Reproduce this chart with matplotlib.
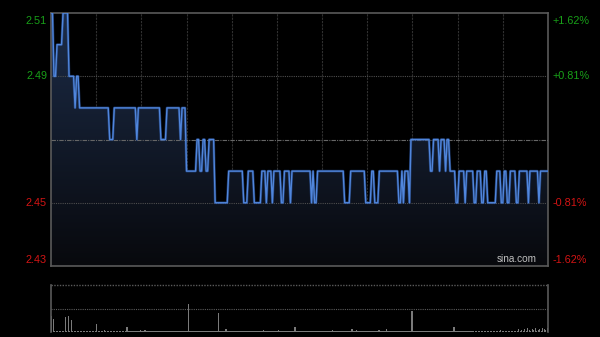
import numpy as np
import matplotlib
matplotlib.use("Agg")
import matplotlib.pyplot as plt

# intraday price, run-length: start minute of each run and its price
run_start = [0, 2, 4, 8, 12, 16, 17, 19, 39, 42, 57, 58, 73, 77, 86, 87, 90,
             97, 99, 101, 103, 105, 109, 118, 128, 131, 135, 140, 143, 144,
             147, 148, 153, 155, 159, 160, 173, 174, 175, 177, 195, 199, 209,
             213, 215, 218, 231, 233, 234, 235, 238, 239, 252, 254, 258, 259,
             262, 263, 265, 269, 271, 275, 276, 281, 283, 286, 288, 290, 296,
             299, 301, 303, 305, 309, 311, 317, 318, 324, 325]
run_price = [2.51, 2.49, 2.50, 2.51, 2.49, 2.48, 2.49, 2.48, 2.47, 2.48, 2.47,
             2.48, 2.47, 2.48, 2.47, 2.48, 2.46, 2.47, 2.46, 2.47, 2.46, 2.47,
             2.45, 2.46, 2.45, 2.46, 2.45, 2.46, 2.45, 2.46, 2.45, 2.46, 2.45,
             2.46, 2.45, 2.46, 2.45, 2.46, 2.45, 2.46, 2.45, 2.46, 2.45, 2.46,
             2.45, 2.46, 2.45, 2.46, 2.45, 2.46, 2.45, 2.47, 2.46, 2.47, 2.46,
             2.47, 2.46, 2.47, 2.46, 2.45, 2.46, 2.45, 2.46, 2.45, 2.46, 2.45,
             2.46, 2.45, 2.46, 2.45, 2.46, 2.45, 2.46, 2.45, 2.46, 2.45, 2.46,
             2.45, 2.46]
n_minutes = 331
prev_close = 2.47
price_ticks = [2.51, 2.49, 2.47, 2.45, 2.43]
pct_labels = ["+1.62%", "+0.81%", "", "-0.81%", "-1.62%"]

volume = [
    320, 260, 20, 15, 20, 25, 15, 20, 20, 300,
    20, 320, 25, 240, 20, 15, 20, 15, 20, 25,
    15, 20, 20, 15, 25, 20, 15, 20, 20, 15,
    160, 20, 15, 20, 25, 40, 20, 15, 20, 20,
    15, 20, 25, 20, 15, 20, 20, 15, 25, 20,
    100, 20, 15, 20, 25, 20, 15, 20, 20, 40,
    20, 15, 40, 20, 15, 20, 25, 20, 15, 20,
    20, 15, 25, 20, 20, 15, 20, 20, 15, 25,
    20, 15, 20, 20, 25, 15, 20, 20, 15, 20,
    20, 560, 20, 15, 20, 25, 20, 15, 20, 20,
    15, 20, 25, 20, 15, 20, 20, 15, 25, 20,
    20, 380, 20, 15, 20, 25, 60, 20, 15, 20,
    20, 15, 25, 20, 15, 20, 20, 15, 20, 25,
    20, 15, 20, 20, 25, 15, 20, 20, 15, 20,
    20, 40, 20, 15, 25, 20, 15, 20, 20, 15,
    20, 40, 20, 15, 20, 25, 20, 15, 20, 20,
    15, 20, 100, 20, 15, 20, 25, 20, 15, 20,
    20, 15, 25, 20, 15, 20, 20, 15, 20, 25,
    20, 15, 20, 20, 25, 15, 20, 40, 15, 20,
    20, 15, 25, 20, 15, 20, 20, 15, 25, 20,
    60, 20, 15, 50, 20, 25, 20, 15, 20, 20,
    15, 20, 25, 20, 15, 20, 20, 15, 50, 20,
    20, 15, 20, 60, 25, 20, 15, 20, 20, 15,
    20, 25, 20, 15, 20, 20, 15, 25, 20, 20,
    420, 20, 15, 20, 25, 20, 15, 20, 20, 15,
    20, 25, 20, 15, 20, 20, 15, 20, 25, 20,
    15, 20, 20, 15, 25, 20, 20, 15, 100, 20,
    20, 15, 20, 25, 20, 15, 20, 20, 15, 20,
    25, 20, 15, 20, 20, 15, 20, 25, 20, 15,
    20, 20, 15, 25, 20, 20, 15, 20, 20, 50,
    20, 15, 20, 25, 20, 15, 20, 20, 15, 20,
    25, 60, 20, 40, 15, 60, 20, 80, 40, 20,
    60, 40, 80, 20, 40, 60, 20, 80, 60, 40,
    90,
]

# expand the runs into one price per minute
prices = np.empty(n_minutes)
bounds = run_start + [n_minutes]
for i, p in enumerate(run_price):
    prices[bounds[i]:bounds[i + 1]] = p
minutes = np.arange(n_minutes)

GREEN = "#18a018"
RED = "#d41414"
FONT = "Liberation Sans"

fig = plt.figure(figsize=(6, 3.37), dpi=100, facecolor="black")
ax = fig.add_axes([51 / 600, 1 - 266 / 337, 497 / 600, 253 / 337])
axv = fig.add_axes([51 / 600, 1 - 332 / 337, 497 / 600, 47 / 337])

# ---- price panel
ax.set_facecolor("black")
ax.set_xlim(0, n_minutes - 1)
ax.set_ylim(price_ticks[-1], price_ticks[0])

for m in range(30, 330, 30):
    ax.axvline(m, color="#303030", lw=0.8, ls=(0, (2, 1)), zorder=1)
for p in price_ticks[1:-1]:
    if p == prev_close:
        ax.axhline(p, color="#666666", lw=0.8, ls=(0, (4, 1, 1, 1)), zorder=3)
    else:
        ax.axhline(p, color="#4e4e4e", lw=0.8, ls=(0, (1, 1)), zorder=3)

# gradient fill under the line
poly = ax.fill_between(minutes, prices, price_ticks[-1], color="none")
grad = np.linspace(0, 1, 256).reshape(-1, 1)
top_c = np.array([28, 44, 72]) / 255
bot_c = np.array([8, 9, 13]) / 255
img = top_c * (1 - grad[..., None]) + bot_c * grad[..., None]
im = ax.imshow(img, extent=[0, n_minutes - 1, price_ticks[-1], price_ticks[0]],
               aspect="auto", origin="upper", zorder=2)
im.set_clip_path(poly.get_paths()[0], transform=ax.transData)

ax.plot(minutes, prices, color="#2f5aa8", lw=1.9, alpha=0.55, zorder=4)
ax.plot(minutes, prices, color="#5086dc", lw=1.0, zorder=5)

for s in ax.spines.values():
    s.set_color("#5a5a5a")
    s.set_linewidth(1.2)
ax.set_xticks([])
ax.set_yticks([])

for p, pct in zip(price_ticks, pct_labels):
    if p == prev_close:
        continue
    col = GREEN if p > prev_close else RED
    va = "center"
    dy = 0
    if p == price_ticks[0]:
        va = "top"
        dy = 0.001
    elif p == price_ticks[-1]:
        va = "bottom"
        dy = -0.0003
    ax.text(-0.008, p - dy, f"{p:.2f}", transform=ax.get_yaxis_transform(),
            ha="right", va=va, color=col, fontsize=7.8, family=FONT)
    ax.text(1.009, p - dy, pct, transform=ax.get_yaxis_transform(),
            ha="left", va=va, color=col, fontsize=7.8, family=FONT)

ax.text(0.977, 0.008, "sina.com", transform=ax.transAxes, ha="right",
        va="bottom", color="#c0c0c0", fontsize=7.2, family=FONT, zorder=6)

# ---- volume panel
vmax = 940
axv.set_facecolor("black")
axv.set_xlim(-0.5, n_minutes - 0.5)
axv.set_ylim(0, vmax)
axv.bar(minutes, volume, width=0.9, color="#7a7a7a", linewidth=0)
axv.axhline(vmax / 2, color="#5a5a5a", lw=0.8, ls=(0, (1, 1)))
axv.axhline(vmax, color="#5a5a5a", lw=1.0, ls=(0, (1, 1)), clip_on=False)
axv.spines["top"].set_visible(False)
axv.spines["bottom"].set_visible(False)
for side in ("left", "right"):
    axv.spines[side].set_color("#5a5a5a")
    axv.spines[side].set_linewidth(1.2)
axv.set_xticks([])
axv.set_yticks([])

fig.savefig("out.png", dpi=100, facecolor="black")
